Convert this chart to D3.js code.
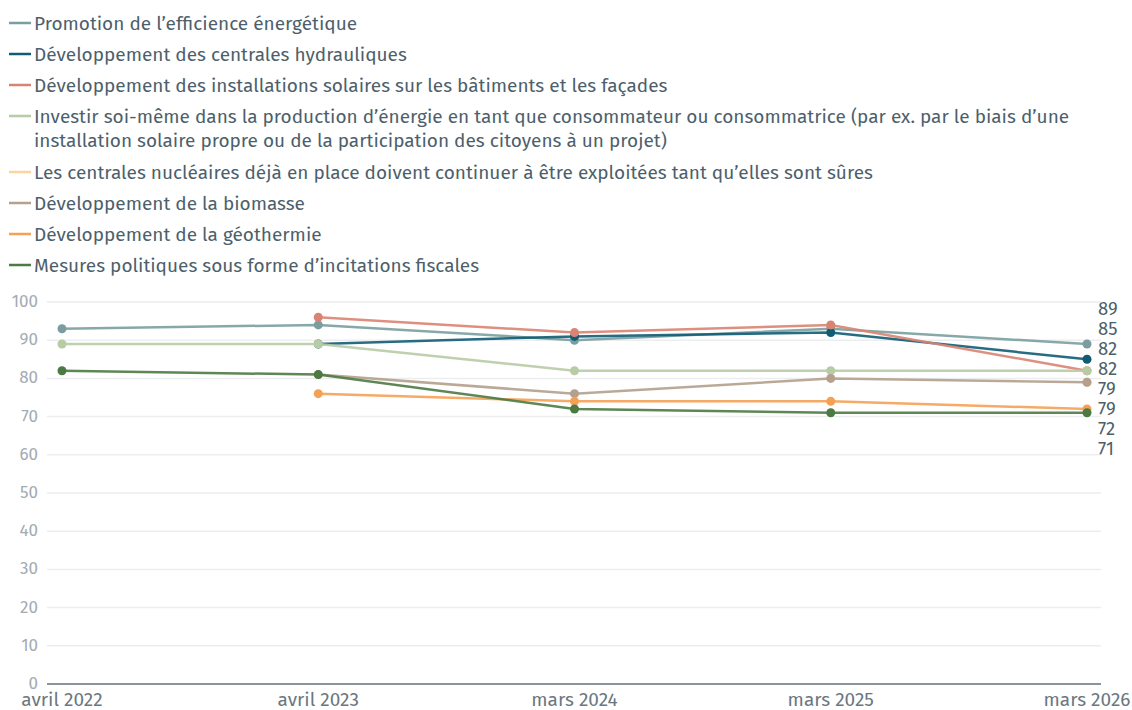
<!DOCTYPE html>
<html>
<head>
<meta charset="utf-8">
<script src="https://cdn.jsdelivr.net/npm/d3@7"></script>
<style>
  body { margin: 0; background: #fff; }
  svg { display: block; font-family: "Fira Sans", "Noto Sans", sans-serif; }
</style>
</head>
<body>
<svg id="chart" width="1132" height="710"></svg>
<script>
// Data
const periods = ["avril 2022", "avril 2023", "mars 2024", "mars 2025", "mars 2026"];
const seriesNames = [
  "Promotion de l’efficience énergétique",
  "Développement des centrales hydrauliques",
  "Développement des installations solaires sur les bâtiments et les façades",
  "Investir soi-même dans la production d’énergie en tant que consommateur ou consommatrice (par ex. par le biais d’une installation solaire propre ou de la participation des citoyens à un projet)",
  "Les centrales nucléaires déjà en place doivent continuer à être exploitées tant qu’elles sont sûres",
  "Développement de la biomasse",
  "Développement de la géothermie",
  "Mesures politiques sous forme d’incitations fiscales"
];
const efficience  = [93, 94, 90, 93, 89];
const hydraulique = [null, 89, 91, 92, 85];
const solaire     = [null, 96, 92, 94, 82];
const investir    = [89, 89, 82, 82, 82];
const nucleaire   = [null, null, null, null, 79];
const biomasse    = [null, 81, 76, 80, 79];
const geothermie  = [null, 76, 74, 74, 72];
const mesures     = [82, 81, 72, 71, 71];
const seriesColors = ["#7a9e9f", "#0f5c74", "#d98472", "#b7cba5", "#fdd49e", "#b4a08d", "#f5a155", "#4b7a43"];
const yTicks = [0, 10, 20, 30, 40, 50, 60, 70, 80, 90, 100];

const allValues = [efficience, hydraulique, solaire, investir, nucleaire, biomasse, geothermie, mesures];
const series = seriesNames.map((name, i) => ({
  name: name,
  color: seriesColors[i],
  values: allValues[i].map((v, j) => ({period: periods[j], value: v}))
}));

const svg = d3.select("#chart");

// Legend
const legend = svg.append("g").attr("class", "legend");
const maxTextWidth = 1060;
let ly = 23;
series.forEach(s => {
  legend.append("line")
    .attr("x1", 9).attr("x2", 31)
    .attr("y1", ly).attr("y2", ly)
    .attr("stroke", s.color).attr("stroke-width", 2.5);
  const text = legend.append("text")
    .attr("x", 34).attr("y", ly)
    .attr("dy", "0.35em")
    .attr("fill", "#4d5f6c")
    .style("font-size", "19px");
  // simple word wrap
  const words = s.name.split(" ");
  let line = [];
  let tspan = text.append("tspan").attr("x", 34);
  let lines = 1;
  words.forEach(w => {
    line.push(w);
    tspan.text(line.join(" "));
    if (tspan.node().getComputedTextLength() > maxTextWidth && line.length > 1) {
      line.pop();
      tspan.text(line.join(" "));
      line = [w];
      tspan = text.append("tspan").attr("x", 34).attr("dy", 24).text(w);
      lines++;
    }
  });
  ly += 31 + (lines - 1) * 25;
});

// Scales
const x = d3.scalePoint().domain(periods).range([62, 1087]);
const y = d3.scaleLinear().domain([0, 100]).range([684, 302]);

// Grid
svg.append("g").selectAll("line")
  .data(yTicks.filter(t => t > 0))
  .join("line")
  .attr("x1", 47).attr("x2", 1101)
  .attr("y1", d => y(d)).attr("y2", d => y(d))
  .attr("stroke", "#ebedef").attr("stroke-width", 1.5);

svg.append("line")
  .attr("x1", 47).attr("x2", 1101)
  .attr("y1", y(0)).attr("y2", y(0))
  .attr("stroke", "#89949c").attr("stroke-width", 2);

// Y tick labels
svg.append("g").selectAll("text")
  .data(yTicks)
  .join("text")
  .attr("x", 38).attr("y", d => y(d) - 1)
  .attr("dy", "0.35em")
  .attr("text-anchor", "end")
  .attr("fill", "#a3abb2")
  .style("font-size", "17px")
  .text(d => d);

// X tick labels
svg.append("g").selectAll("text")
  .data(periods)
  .join("text")
  .attr("x", d => x(d)).attr("y", 706)
  .attr("text-anchor", "middle")
  .attr("fill", "#6b7780")
  .style("font-size", "19px")
  .style("font-stretch", "condensed")
  .text(d => d);

// Lines and dots
const line = d3.line()
  .defined(d => d.value !== null)
  .x(d => x(d.period))
  .y(d => y(d.value));

const seriesG = svg.append("g").selectAll("g")
  .data(series)
  .join("g");

seriesG.append("path")
  .attr("d", d => line(d.values))
  .attr("fill", "none")
  .attr("stroke", d => d.color)
  .attr("stroke-width", 2.5)
  .attr("stroke-opacity", 0.9);

seriesG.selectAll("circle")
  .data(d => d.values.filter(v => v.value !== null).map(v => ({...v, color: d.color})))
  .join("circle")
  .attr("cx", d => x(d.period))
  .attr("cy", d => y(d.value))
  .attr("r", 4.5)
  .attr("fill", d => d.color);

// End labels with simple dodging
const last = periods[periods.length - 1];
const endLabels = series.map(s => {
  const v = s.values[s.values.length - 1].value;
  return {value: v, y: y(v)};
}).filter(d => d.value !== null)
  .sort((a, b) => a.y - b.y);

const gap = 20;
for (let iter = 0; iter < 200; iter++) {
  for (let i = 1; i < endLabels.length; i++) {
    const diff = endLabels[i].y - endLabels[i - 1].y;
    if (diff < gap) {
      const shift = (gap - diff) / 2;
      endLabels[i].y += shift;
      endLabels[i - 1].y -= shift;
    }
  }
}

svg.append("g").selectAll("text")
  .data(endLabels)
  .join("text")
  .attr("x", x(last) + 11)
  .attr("y", d => d.y)
  .attr("dy", "0.35em")
  .attr("fill", "#4d5f6c")
  .style("font-size", "18.5px")
  .text(d => d.value);
</script>
</body>
</html>
